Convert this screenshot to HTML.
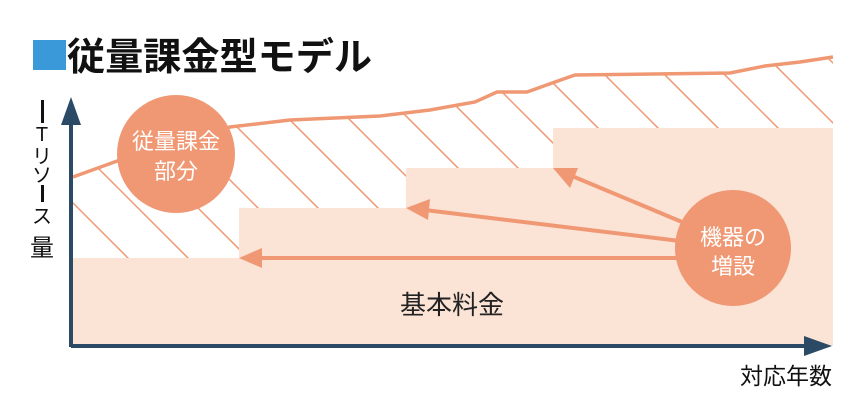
<!DOCTYPE html>
<html><head><meta charset="utf-8"><style>
html,body{margin:0;padding:0;background:#fff;}
svg{display:block;}
text{font-family:"Liberation Sans","Noto Sans CJK JP",sans-serif;}
</style></head><body>
<svg width="862" height="417" viewBox="0 0 862 417" xmlns="http://www.w3.org/2000/svg">
<defs>
<clipPath id="c"><polygon points="73,177 120,160 160,145 230,127 290,120 380,116 430,110 475,102 497,92 527,92 555,82 575,75 730,73 765,66 800,62 833,57 833,128 553,128 553,168 406,168 406,208 239,208 239,258 73,258"/></clipPath>
</defs>
<rect x="33" y="40" width="33" height="30" fill="#3a9ad9"/>
<text x="67" y="70" font-size="38" font-weight="bold" fill="#111" textLength="305" lengthAdjust="spacingAndGlyphs">従量課金型モデル</text>
<g clip-path="url(#c)">
<g stroke="#ef9873" stroke-width="1.5">
<line x1="-100" y1="30" x2="300" y2="430"/>
<line x1="-40" y1="30" x2="360" y2="430"/>
<line x1="20" y1="30" x2="420" y2="430"/>
<line x1="80" y1="30" x2="480" y2="430"/>
<line x1="140" y1="30" x2="540" y2="430"/>
<line x1="200" y1="30" x2="600" y2="430"/>
<line x1="260" y1="30" x2="660" y2="430"/>
<line x1="320" y1="30" x2="720" y2="430"/>
<line x1="380" y1="30" x2="780" y2="430"/>
<line x1="440" y1="30" x2="840" y2="430"/>
<line x1="500" y1="30" x2="900" y2="430"/>
<line x1="560" y1="30" x2="960" y2="430"/>
<line x1="620" y1="30" x2="1020" y2="430"/>
<line x1="680" y1="30" x2="1080" y2="430"/>
<line x1="740" y1="30" x2="1140" y2="430"/>
<line x1="800" y1="30" x2="1200" y2="430"/>
</g></g>
<polyline points="73,177 120,160 160,145 230,127 290,120 380,116 430,110 475,102 497,92 527,92 555,82 575,75 730,73 765,66 800,62 833,57" fill="none" stroke="#ef9873" stroke-width="3.5"/>
<g fill="#fbe3d6">
<rect x="73" y="258" width="760" height="88"/>
<rect x="239" y="208" width="594" height="51"/>
<rect x="406" y="168" width="427" height="41"/>
<rect x="553" y="128" width="280" height="41"/>
</g>
<text x="452" y="314" font-size="26" text-anchor="middle" fill="#222">基本料金</text>
<g stroke="#ef9873" stroke-width="4" fill="#ef9873">
<line x1="680" y1="258" x2="258" y2="258"/>
<polygon points="239,258 262,248 262,268" stroke="none"/>
<line x1="680" y1="241" x2="425" y2="210"/>
<polygon points="406,208 430,199 428,220" stroke="none"/>
<line x1="682" y1="222" x2="572" y2="176"/>
<polygon points="553,168 578,168 570,188" stroke="none"/>
</g>
<circle cx="176" cy="154" r="59" fill="#ef9873"/>
<text x="176" y="149" font-size="22" fill="#fff" text-anchor="middle">従量課金</text>
<text x="176" y="179" font-size="22" fill="#fff" text-anchor="middle">部分</text>
<circle cx="733" cy="248" r="58" fill="#ef9873"/>
<text x="733" y="245" font-size="22" fill="#fff" text-anchor="middle">機器の</text>
<text x="733" y="274" font-size="22" fill="#fff" text-anchor="middle">増設</text>
<g fill="#2b4a66" stroke="#2b4a66">
<line x1="71" y1="120" x2="71" y2="347" stroke-width="4"/>
<polygon points="71,97 61,125 81,125" stroke="none"/>
<line x1="71" y1="346" x2="810" y2="346" stroke-width="4"/>
<polygon points="832,346 804,336 804,356" stroke="none"/>
</g>
<g font-size="20" fill="#111" text-anchor="middle">
<rect x="41" y="100" width="3" height="23" fill="#111"/>
<text x="42" y="141">T</text>
<text x="42" y="163">リ</text>
<text x="42" y="182">ソ</text>
<rect x="41" y="185" width="3" height="17" fill="#111"/>
<text x="42" y="223">ス</text>
<text x="42" y="256" font-size="24">量</text>
</g>
<text x="832" y="384" font-size="23" fill="#111" text-anchor="end">対応年数</text>
</svg>
</body></html>
